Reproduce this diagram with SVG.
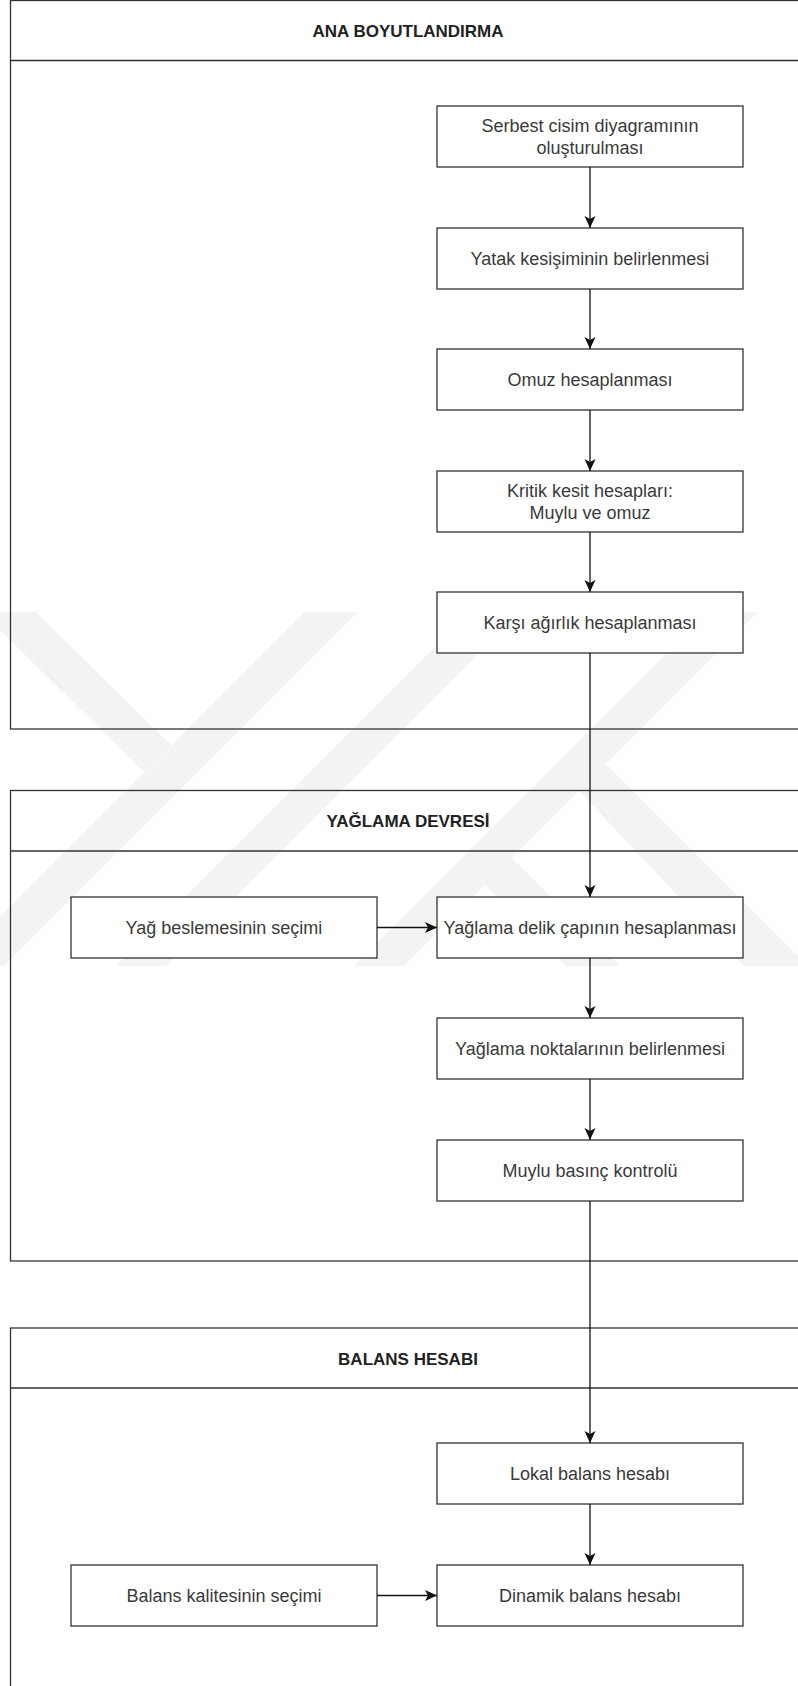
<svg xmlns="http://www.w3.org/2000/svg" width="798" height="1686" viewBox="0 0 798 1686">
<defs>
<style>
.cont{fill:none;stroke:#333;stroke-width:1.3}
.hl{stroke:#333;stroke-width:1.3}
.box{fill:#fff;stroke:#333;stroke-width:1.3}
.t{font-family:"Liberation Sans",Arial,sans-serif;font-size:18px;fill:#3a3a3a;text-anchor:middle}
.h{font-family:"Liberation Sans",Arial,sans-serif;font-size:17px;font-weight:bold;fill:#222;text-anchor:middle}
.wm{fill:#f3f3f3}
.c{fill:none;stroke:#111;stroke-width:1.3}
.a{fill:none;stroke:#111;stroke-width:1.3;marker-end:url(#arr)}
</style>
<marker id="arr" viewBox="0 0 12 12" refX="12" refY="6" markerWidth="12" markerHeight="12" markerUnits="userSpaceOnUse" orient="auto">
<path d="M0,0.5 L12,6 L0,11.5 L3,6 Z" fill="#111"/>
</marker>
</defs>
<rect x="0" y="0" width="798" height="1686" fill="#fff"/>
<g id="watermark">
<polygon class="wm" points="0,612 36,612 171,745 144,772 0,630"/>
<polygon class="wm" points="305,612 358,612 4,966 0,966 0,917"/>
<polygon class="wm" points="470,612 520,612 166,966 116,966"/>
<polygon class="wm" points="708,612 758,612 404,966 354,966"/>
<polygon class="wm" points="605,763 798,956 798,966 744,966 578,790"/>
<polygon class="wm" points="511,857 620,966 566,966 484,884"/>
</g>
<g id="ana-boyutlandirma">
<rect class="cont" x="10.5" y="0.5" width="800" height="728.5"/>
<line class="hl" x1="10.5" y1="60.5" x2="810" y2="60.5"/>
<text class="h" x="408" y="37">ANA BOYUTLANDIRMA</text>
</g>
<g id="yaglama-devresi">
<rect class="cont" x="10.5" y="790.5" width="800" height="470.5"/>
<line class="hl" x1="10.5" y1="851" x2="810" y2="851"/>
<text class="h" x="408" y="827">YAĞLAMA DEVRESİ</text>
</g>
<g id="balans-hesabi">
<rect class="cont" x="10.5" y="1328" width="800" height="420"/>
<line class="hl" x1="10.5" y1="1388" x2="810" y2="1388"/>
<text class="h" x="408" y="1365">BALANS HESABI</text>
</g>
<g id="n-serbest">
<rect class="box" x="437" y="106" width="306" height="61"/>
<text class="t" x="590" y="132">Serbest cisim diyagramının</text>
<text class="t" x="590" y="153.7">oluşturulması</text>
</g>
<g id="n-yatak">
<rect class="box" x="437" y="228" width="306" height="61"/>
<text class="t" x="590" y="265">Yatak kesişiminin belirlenmesi</text>
</g>
<g id="n-omuz">
<rect class="box" x="437" y="349" width="306" height="61"/>
<text class="t" x="590" y="386">Omuz hesaplanması</text>
</g>
<g id="n-kritik">
<rect class="box" x="437" y="471" width="306" height="61"/>
<text class="t" x="590" y="497">Kritik kesit hesapları:</text>
<text class="t" x="590" y="518.7">Muylu ve omuz</text>
</g>
<g id="n-karsi">
<rect class="box" x="437" y="592" width="306" height="61"/>
<text class="t" x="590" y="629">Karşı ağırlık hesaplanması</text>
</g>
<g id="n-yag-besleme">
<rect class="box" x="71" y="897" width="306" height="61"/>
<text class="t" x="224" y="934">Yağ beslemesinin seçimi</text>
</g>
<g id="n-delik">
<rect class="box" x="437" y="897" width="306" height="61"/>
<text class="t" x="590" y="934">Yağlama delik çapının hesaplanması</text>
</g>
<g id="n-noktalar">
<rect class="box" x="437" y="1018" width="306" height="61"/>
<text class="t" x="590" y="1055">Yağlama noktalarının belirlenmesi</text>
</g>
<g id="n-muylu">
<rect class="box" x="437" y="1140" width="306" height="61"/>
<text class="t" x="590" y="1177">Muylu basınç kontrolü</text>
</g>
<g id="n-lokal">
<rect class="box" x="437" y="1443" width="306" height="61"/>
<text class="t" x="590" y="1480">Lokal balans hesabı</text>
</g>
<g id="n-kalite">
<rect class="box" x="71" y="1565" width="306" height="61"/>
<text class="t" x="224" y="1602">Balans kalitesinin seçimi</text>
</g>
<g id="n-dinamik">
<rect class="box" x="437" y="1565" width="306" height="61"/>
<text class="t" x="590" y="1602">Dinamik balans hesabı</text>
</g>
<g id="connectors">
<line class="a" x1="590" y1="167" x2="590" y2="228"/>
<line class="a" x1="590" y1="289" x2="590" y2="349"/>
<line class="a" x1="590" y1="410" x2="590" y2="471"/>
<line class="a" x1="590" y1="532" x2="590" y2="592"/>
<line class="a" x1="590" y1="653" x2="590" y2="897"/>
<line class="a" x1="377" y1="927.5" x2="437" y2="927.5"/>
<line class="a" x1="590" y1="958" x2="590" y2="1018"/>
<line class="a" x1="590" y1="1079" x2="590" y2="1140"/>
<line class="a" x1="590" y1="1201" x2="590" y2="1443"/>
<line class="a" x1="590" y1="1504" x2="590" y2="1565"/>
<line class="a" x1="377" y1="1595.5" x2="437" y2="1595.5"/>
</g>
</svg>
